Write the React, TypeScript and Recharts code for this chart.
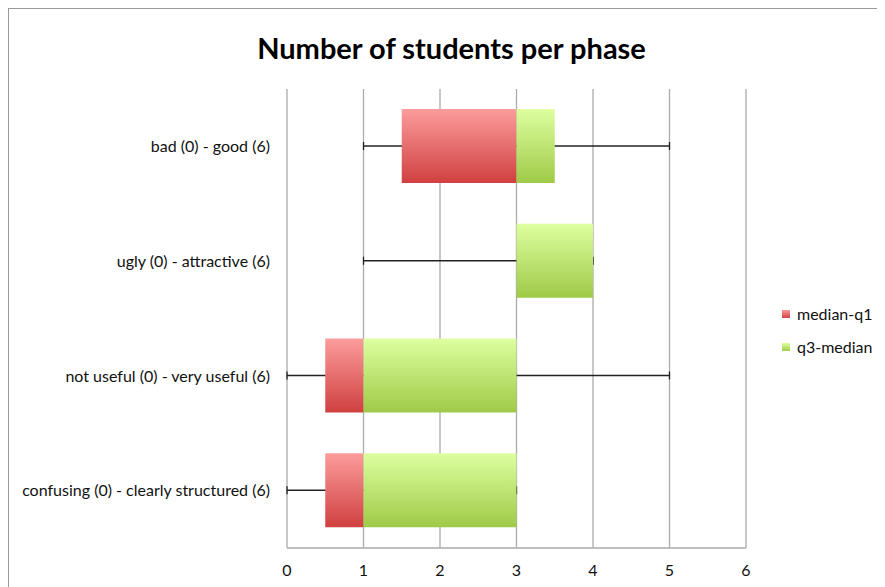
import { BarChart, Bar, XAxis, YAxis, CartesianGrid, ErrorBar, Legend } from 'recharts';

const categories = [
  'bad (0) - good (6)',
  'ugly (0) - attractive (6)',
  'not useful (0) - very useful (6)',
  'confusing (0) - clearly structured (6)',
];
const minimum = [1, 1, 0, 0];
const q1 = [1.5, 3, 0.5, 0.5];
const median = [3, 3, 1, 1];
const q3 = [3.5, 4, 3, 3];
const maximum = [5, 4, 5, 3];
const xTicks = [0, 1, 2, 3, 4, 5, 6];

const FONT = 'Lato, "Open Sans", sans-serif';
const GRID = '#ababab';

// stacked: transparent q1 offset, then the two box halves; whiskers hang on the offset bar
const data = categories.map((name, i) => ({
  name,
  base: q1[i],
  lower: median[i] - q1[i],
  upper: q3[i] - median[i],
  whisker: [q1[i] - minimum[i], maximum[i] - q1[i]],
}));

const SWATCH: Record<string, { label: string; bg: string }> = {
  lower: { label: 'median-q1', bg: 'linear-gradient(#fa9a9a, #d24343)' },
  upper: { label: 'q3-median', bg: 'linear-gradient(#dcff9f, #a0cb4a)' },
};

function LegendBox({ payload }: any) {
  return (
    <div style={{ fontFamily: FONT, fontSize: 16, color: '#111' }}>
      {(payload || []).map((p: any) => {
        const s = SWATCH[p.dataKey];
        if (!s) return null;
        return (
          <div key={p.dataKey} style={{ display: 'flex', alignItems: 'center', height: 33 }}>
            <span style={{ width: 8, height: 8, background: s.bg, marginRight: 7 }} />
            <span>{s.label}</span>
          </div>
        );
      })}
    </div>
  );
}

export default function App() {
  return (
    <div
      style={{
        position: 'relative',
        width: 877,
        height: 579,
        borderTop: '1px solid #9a9a9a',
        borderLeft: '1px solid #9a9a9a',
        overflow: 'hidden',
        background: '#fff',
      }}
    >
      <div
        style={{
          position: 'absolute',
          left: 0,
          width: 885,
          top: 21,
          textAlign: 'center',
          fontFamily: FONT,
          fontWeight: 700,
          fontSize: 29,
          color: '#000',
        }}
      >
        Number of students per phase
      </div>
      <BarChart
        width={876}
        height={578}
        data={data}
        layout="vertical"
        margin={{ top: 80, right: 139, left: 0, bottom: 9 }}
        barSize={74}
      >
        <defs>
          <linearGradient id="redGrad" x1="0" y1="0" x2="0" y2="1">
            <stop offset="0%" stopColor="#fc9c9c" />
            <stop offset="100%" stopColor="#d04040" />
          </linearGradient>
          <linearGradient id="greenGrad" x1="0" y1="0" x2="0" y2="1">
            <stop offset="0%" stopColor="#ddffa0" />
            <stop offset="100%" stopColor="#9fca47" />
          </linearGradient>
        </defs>
        <CartesianGrid horizontal={false} stroke={GRID} strokeWidth={1.3} />
        <XAxis
          type="number"
          domain={[0, 6]}
          ticks={xTicks}
          height={30}
          stroke={GRID}
          strokeWidth={1.3}
          tickLine={false}
          tickSize={0}
          tickMargin={17}
          tick={{ fill: '#111', fontSize: 16, fontFamily: FONT }}
        />
        <YAxis
          type="category"
          dataKey="name"
          width={278}
          axisLine={false}
          tickLine={false}
          tickSize={0}
          tickMargin={17}
          tick={{ fill: '#111', fontSize: 16, fontFamily: FONT }}
        />
        <Legend
          layout="vertical"
          align="center"
          verticalAlign="middle"
          content={<LegendBox />}
          wrapperStyle={{ left: 773, top: 288, width: 100 }}
        />
        <Bar dataKey="base" stackId="box" fill="transparent" legendType="none" isAnimationActive={false}>
          <ErrorBar dataKey="whisker" direction="x" width={4} stroke="#222" strokeWidth={1.3} zIndex={250} />
        </Bar>
        <Bar dataKey="lower" name="median-q1" stackId="box" fill="url(#redGrad)" isAnimationActive={false} />
        <Bar dataKey="upper" name="q3-median" stackId="box" fill="url(#greenGrad)" isAnimationActive={false} />
      </BarChart>
    </div>
  );
}
